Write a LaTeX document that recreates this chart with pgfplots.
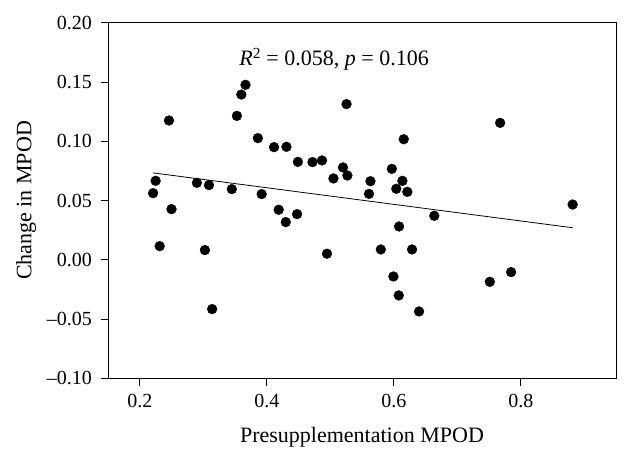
\documentclass[border=0pt]{standalone}
\usepackage{fontspec}
\setmainfont{Liberation Serif}
\usepackage{pgfplots}
\pgfplotsset{compat=1.18}
\begin{document}
\begin{tikzpicture}
\begin{axis}[
  scale only axis,
  width=508bp, height=355.6bp,
  xmin=0.15, xmax=0.95,
  ymin=-0.10, ymax=0.20,
  xtick={0.2,0.4,0.6,0.8},
  xticklabels={0.2,0.4,0.6,0.8},
  ytick={-0.10,-0.05,0,0.05,0.10,0.15,0.20},
  yticklabels={\textendash0.10,\textendash0.05,0.00,0.05,0.10,0.15,0.20},
  tick align=outside,
  major tick length=7.5bp,
  xtick pos=bottom, ytick pos=left,
  tick style={black, line width=0.8pt},
  axis line style={line width=0.8pt},
  ticklabel style={font=\fontsize{20bp}{22bp}\selectfont},
  xticklabel style={yshift=-5bp},
  yticklabel style={xshift=-5bp},
  label style={font=\fontsize{22bp}{24bp}\selectfont},
  xlabel={Presupplementation MPOD},
  ylabel={Change in MPOD},
  xlabel style={at={(axis description cs:0.5,-0.166)}, anchor=center},
  ylabel style={at={(axis description cs:-0.1614,0.5)}, anchor=center, rotate=0},
  clip=false,
]
\addplot[only marks, mark=*, mark size=4.9bp, black] coordinates {
(0.221,0.0562) (0.225,0.0666) (0.246,0.1175) (0.290,0.0649) (0.309,0.0630)
(0.345,0.0596) (0.353,0.1214) (0.360,0.1394) (0.3665,0.1476) (0.386,0.1026)
(0.392,0.0554) (0.4115,0.0950) (0.431,0.0953) (0.449,0.0826) (0.472,0.0824)
(0.487,0.0838) (0.505,0.0686) (0.520,0.0779) (0.527,0.0711) (0.5256,0.1313)
(0.7675,0.1155) (0.6157,0.1017) (0.5633,0.0663) (0.597,0.0767) (0.6136,0.0666)
(0.604,0.0599) (0.6214,0.0573) (0.561,0.0556) (0.250,0.0427) (0.2314,0.0115)
(0.3026,0.0082) (0.314,-0.0416) (0.4188,0.0422) (0.430,0.0318) (0.4477,0.0385)
(0.4948,0.0051) (0.6638,0.0371) (0.8817,0.0466) (0.6084,0.0281) (0.5796,0.0087)
(0.6288,0.0087) (0.5995,-0.0141) (0.6079,-0.0301) (0.6398,-0.0436) (0.7513,-0.0186)
(0.7848,-0.0104)
};
\addplot[black, line width=0.8pt] coordinates {(0.221,0.0733) (0.882,0.0270)};
\node[font=\fontsize{22bp}{24bp}\selectfont] at (axis cs:0.506,0.169) {\textit{R}\textsuperscript{2} = 0.058, \textit{p} = 0.106};
\end{axis}
\path ([xshift=-108bp,yshift=-84bp]current axis.south west) rectangle ([xshift=15bp,yshift=22.7bp]current axis.north east);
\end{tikzpicture}
\end{document}
